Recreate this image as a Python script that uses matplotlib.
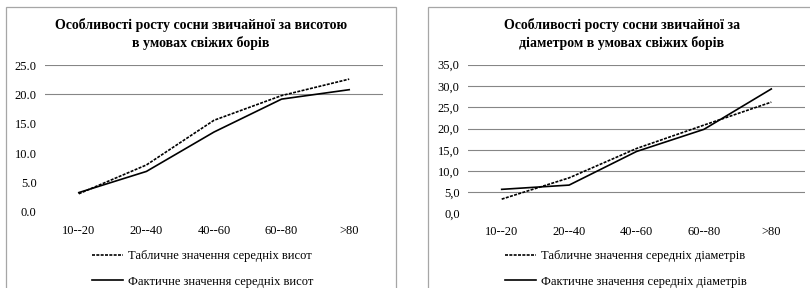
import matplotlib
matplotlib.use('Agg')
from matplotlib import pyplot as plt
from matplotlib.patches import Rectangle

plt.rcParams['font.family'] = ['Liberation Serif', 'DejaVu Serif']

categories = ['10--20', '20--40', '40--60', '60--80', '>80']

# висота
h_table = [3.1, 8.0, 15.6, 19.8, 22.6]
h_fact = [3.3, 6.9, 13.6, 19.2, 20.8]

# діаметр
d_table = [3.4, 8.4, 15.3, 20.8, 26.2]
d_fact = [5.7, 6.7, 14.6, 19.8, 29.3]

W, H = 810, 288
fig = plt.figure(figsize=(W / 100, H / 100), dpi=100)
fig.patch.set_facecolor('white')

# рамки діаграм
for x0, x1 in [(6, 396), (428, 830)]:
    fig.patches.append(Rectangle((x0 / W, -0.2), (x1 - x0) / W, (H - 7) / H + 0.2,
                                 transform=fig.transFigure, fill=False,
                                 edgecolor='#a6a6a6', lw=0.9))

dash = (0, (1.8, 0.8))


def draw(rect, table, fact, ymax, grid_levels, fmt, title, labels, title_x, leg_xy):
    ax = fig.add_axes(rect)
    x = range(len(categories))
    for g in grid_levels:
        ax.axhline(g, color='#868686', lw=0.8, zorder=0)
    l1, = ax.plot(x, table, color='black', lw=1.2, linestyle=dash)
    l2, = ax.plot(x, fact, color='black', lw=1.2)
    ax.set_xlim(-0.5, len(categories) - 0.5)
    ax.set_ylim(0, ymax)
    ax.set_yticks(range(0, ymax + 1, 5))
    ax.set_yticklabels([fmt(v) for v in range(0, ymax + 1, 5)])
    ax.set_xticks(list(x))
    ax.set_xticklabels(categories)
    ax.tick_params(length=0, labelsize=9, colors='black')
    ax.tick_params(axis='y', pad=6)
    ax.tick_params(axis='x', pad=9)
    for s in ax.spines.values():
        s.set_visible(False)
    ax.patch.set_alpha(0)
    fig.text(title_x / W, 1 - 34 / H, title, ha='center', va='center',
             fontsize=10, fontweight='bold', linespacing=1.3)
    fig.legend([l1, l2], labels, loc='upper left',
               bbox_to_anchor=(leg_xy[0] / W, 1 - leg_xy[1] / H),
               frameon=False, fontsize=9, handlelength=2.5, handletextpad=0.35,
               labelspacing=1.1, borderpad=0, borderaxespad=0)


draw([45 / W, (H - 212) / H, 338 / W, 147 / H], h_table, h_fact, 25, [20, 25],
     lambda v: f'{v:.1f}',
     'Особливості росту сосни звичайної за висотою\nв умовах свіжих борів',
     ['Табличне значення середніх висот', 'Фактичне значення середніх висот'],
     201, (92, 250))

draw([468 / W, (H - 213.6) / H, 337 / W, 148.9 / H], d_table, d_fact, 35,
     [5, 10, 15, 20, 25, 30, 35],
     lambda v: f'{v:.1f}'.replace('.', ','),
     'Особливості росту сосни звичайної за\nдіаметром в умовах свіжих борів',
     ['Табличне значення середніх діаметрів', 'Фактичне значення середніх діаметрів'],
     622, (505, 250))

fig.savefig('out.png', dpi=100)
